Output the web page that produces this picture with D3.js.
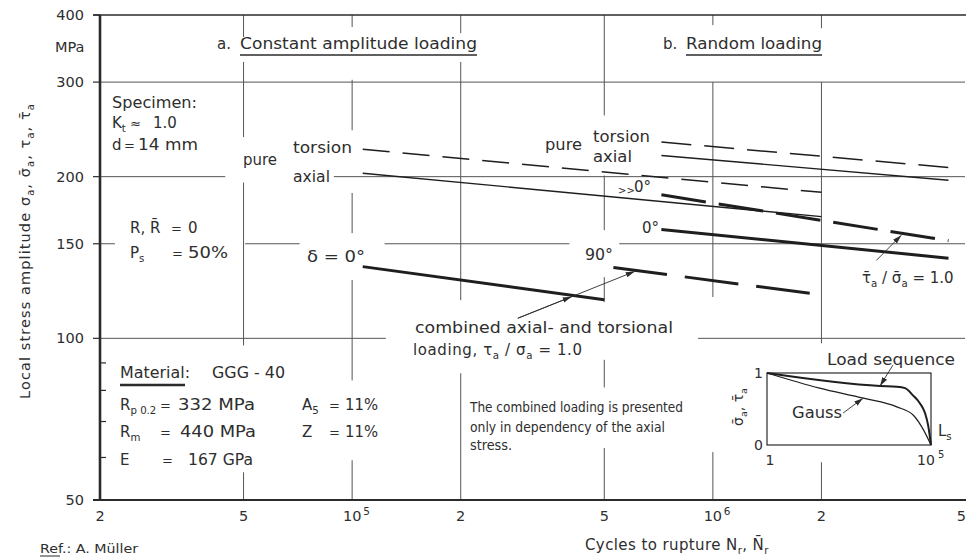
<!DOCTYPE html>
<html>
<head>
<meta charset="utf-8">
<script src="https://cdn.jsdelivr.net/npm/d3@7"></script>
<style>
  body { margin: 0; background: #fff; }
  svg text { font-family: "DejaVu Sans", sans-serif; fill: #2e2e2e; }
  .narrow { font-family: "Liberation Sans Narrow", "DejaVu Sans Condensed", sans-serif; }
</style>
</head>
<body>
<svg id="chart" width="966" height="560"></svg>
<script>
// axis ticks
const cycleTicks = [2e4, 5e4, 1e5, 2e5, 5e5, 1e6, 2e6, 5e6];
const cycleTickLabels = ['2', '5', '10|5', '2', '5', '10|6', '2', '5'];
const stressTicks = [50, 100, 150, 200, 300, 400];
const stressMinor = [60, 70, 80, 90];

// a. constant amplitude loading (cycles, MPa)
const caTorsionN = [1.07e5, 2.0e6], caTorsionS = [225, 187];
const caAxialN = [1.07e5, 2.0e6], caAxialS = [203, 168.5];
const caComb0N = [1.07e5, 5.0e5], caComb0S = [136, 118];
const caComb90N = [5.3e5, 2.0e6], caComb90S = [135.5, 120.5];

// b. random loading
const rdTorsionN = [7.2e5, 4.5e6], rdTorsionS = [232, 208];
const rdAxialN = [7.2e5, 4.5e6], rdAxialS = [219, 197];
const rdComb90N = [7.2e5, 4.5e6], rdComb90S = [185, 152];
const rdComb0N = [7.2e5, 4.5e6], rdComb0S = [159.5, 141];

// inset: spectra (cumulative cycles, relative amplitude)
const loadSeqN = [1, 2800, 9100, 16200, 28200, 45700, 66100, 81300, 100000];
const loadSeqA = [1, 0.82, 0.81, 0.79, 0.69, 0.58, 0.44, 0.28, 0];
const gaussN = [1, 40, 870, 9100, 29500, 58900, 100000];
const gaussA = [1, 0.79, 0.65, 0.53, 0.41, 0.21, 0];

// grid pieces left open around the lettering (data units)
const hGrid = [
  [300, [[2e4, 5e6]]],
  [200, [[2e4, 4.45e4], [8.9e4, 5e6]]],
  [150, [[2e4, 2.2e4], [5.05e4, 7.15e4], [1.23e5, 4.0e5], [5.5e5, 5e6]]],
  [100, [[2e4, 1.24e5], [9.1e5, 5e6]]]
];
const vGrid = [
  [5e4, [[364, 400], [237, 327], [97, 195], [50, 56.3]]],
  [1e5, [[380, 400], [244, 303], [157, 186.5], [83.5, 128.4], [50, 59.3]]],
  [2e5, [[370, 400], [117.8, 327], [50, 86.1]]],
  [5e5, [[260, 400], [159, 201], [116.8, 130], [81, 91.2], [50, 62.5]]],
  [1e6, [[383, 400], [119.4, 300], [50, 61.4]]],
  [2e6, [[378, 400], [97.9, 300], [50, 58.8]]]
];

const ink = '#2b2b2b';
const svg = d3.select('#chart');

const x = d3.scaleLog().domain([2e4, 5e6]).range([100, 965]);
const y = d3.scaleLog().domain([50, 400]).range([500, 15]);

// arrow head
svg.append('defs').append('marker')
  .attr('id', 'head').attr('viewBox', '0 0 10 6')
  .attr('refX', 10).attr('refY', 3)
  .attr('markerWidth', 9).attr('markerHeight', 5.5)
  .attr('markerUnits', 'userSpaceOnUse').attr('orient', 'auto')
  .append('path').attr('d', 'M0,0L10,3L0,6Z').attr('fill', ink);

function txt(xp, yc, parts, o = {}) {
  const t = svg.append('text')
    .attr('x', xp).attr('y', yc + (o.dy ?? 5))
    .attr('font-size', o.size || 15)
    .attr('text-anchor', o.anchor || 'start');
  if (o.cls) t.attr('class', o.cls);
  if (o.ls) t.attr('letter-spacing', o.ls);
  if (o.len) t.attr('textLength', o.len).attr('lengthAdjust', 'spacingAndGlyphs');
  if (o.rot) t.attr('transform', `rotate(${o.rot},${xp},${yc})`);
  if (typeof parts === 'string') parts = [parts];
  let shift = 0;
  parts.forEach(p => {
    const [s, kind] = typeof p === 'string' ? [p, null] : p;
    const target = kind === 'sub' ? 4 : kind === 'sup' ? -7 : 0;
    t.append('tspan').attr('dy', target - shift)
      .attr('font-size', kind ? '0.68em' : null).text(s);
    shift = target;
  });
  return t;
}
function rule(x1, y1, x2, y2, w = 1) {
  svg.append('line').attr('x1', x1).attr('y1', y1).attr('x2', x2).attr('y2', y2)
    .attr('stroke', ink).attr('stroke-width', w);
}
const eq = (xp, yc) => txt(xp, yc, '=', { size: 13 });

// grid
const grid = svg.append('g').attr('stroke', '#555').attr('stroke-width', 1);
hGrid.forEach(([s, segs]) => segs.forEach(([a, b]) =>
  grid.append('line').attr('x1', x(a)).attr('x2', x(b)).attr('y1', y(s)).attr('y2', y(s))));
vGrid.forEach(([n, segs]) => segs.forEach(([a, b]) =>
  grid.append('line').attr('x1', x(n)).attr('x2', x(n)).attr('y1', y(a)).attr('y2', y(b))));

// frame and axes
rule(93, y(400), 966, y(400), 1.3);
rule(93, y(50), 966, y(50), 2.2);
rule(x(2e4), y(400), x(2e4), y(50), 2.6);
stressTicks.forEach(s => {
  rule(93, y(s), 100, y(s), 1.2);
  txt(84, y(s), String(s), { anchor: 'end', size: 14.5 });
});
stressMinor.forEach(s => rule(100, y(s), 106, y(s), 1.2));
txt(55, 47, 'MPa', { size: 14.5 });

cycleTicks.forEach((n, i) => {
  const [base, sup] = cycleTickLabels[i].split('|');
  const last = i === cycleTicks.length - 1;
  txt(x(n) + (last ? 1 : 0), 516, base, { anchor: last ? 'end' : 'middle', size: 14.5 });
  if (sup) txt(x(n) + 11, 510, sup, { size: 10.5 });
});

// S-N lines
const line = d3.line().x(d => x(d[0])).y(d => y(d[1]));
const series = [
  { n: caTorsionN, s: caTorsionS, w: 1.5, dash: '27,13' },
  { n: caAxialN, s: caAxialS, w: 1.4 },
  { n: caComb0N, s: caComb0S, w: 3 },
  { n: caComb90N, s: caComb90S, w: 3, dash: '54,18' },
  { n: rdTorsionN, s: rdTorsionS, w: 1.5, dash: '30,13' },
  { n: rdAxialN, s: rdAxialS, w: 1.4 },
  { n: rdComb90N, s: rdComb90S, w: 3, dash: '45,13' },
  { n: rdComb0N, s: rdComb0S, w: 3 }
];
svg.append('g').selectAll('path').data(series).join('path')
  .attr('d', d => line(d.n.map((v, i) => [v, d.s[i]])))
  .attr('fill', 'none').attr('stroke', '#1e1e1e')
  .attr('stroke-width', d => d.w)
  .attr('stroke-dasharray', d => d.dash || null);

// pointer arrows (data coords)
function arrow(p0, p1, mid) {
  const a = [x(p0[0]), y(p0[1])], b = [x(p1[0]), y(p1[1])];
  const g = svg.append('g').attr('stroke', ink).attr('stroke-width', 0.9);
  g.append('line').attr('x1', a[0]).attr('y1', a[1]).attr('x2', b[0]).attr('y2', b[1])
    .attr('marker-end', 'url(#head)');
  if (mid) {
    const m = [a[0] + (b[0] - a[0]) * mid, a[1] + (b[1] - a[1]) * mid];
    g.append('line').attr('x1', a[0]).attr('y1', a[1]).attr('x2', m[0]).attr('y2', m[1])
      .attr('marker-end', 'url(#head)');
  }
}
arrow([2.88e5, 109], [6.07e5, 133.2], 0.46);
arrow([2.84e6, 139.7], [3.33e6, 155.6]);

// lettering
txt(217, 44, 'a.');
txt(240, 44, 'Constant amplitude loading', { len: 237 });
rule(240, 55, 477, 55, 1.4);
txt(663, 44, 'b.');
txt(686, 44, 'Random loading', { len: 136 });
rule(686, 55, 822, 55, 1.4);

txt(112, 103, 'Specimen:', { len: 85 });
txt(112, 123, ['K', ['t', 'sub']]);
txt(130, 123, '≈', { size: 13 });
txt(153, 123, '1.0');
txt(112, 145, 'd');
eq(124, 145);
txt(138, 145, '14 mm', { len: 60 });
txt(130, 228, 'R, R\u0304');
eq(171, 228);
txt(188, 228, '0');
txt(130, 253, ['P', ['s', 'sub']]);
eq(172, 253);
txt(188, 253, '50%', { len: 40 });

txt(243, 160, 'pure', { len: 34 });
txt(293, 148, 'torsion', { len: 59 });
txt(293, 177, 'axial', { len: 37 });
txt(307, 257, 'δ  =  0°', { len: 58 });
txt(585, 255, '90°', { len: 28 });
txt(545, 145, 'pure', { len: 37 });
txt(593, 137, 'torsion', { len: 57 });
txt(593, 157, 'axial', { len: 39 });
txt(618, 189, '>>', { size: 10 });
txt(634, 187, '0°');
txt(642, 228, '0°');
txt(862, 278, ['τ\u0304', ['a', 'sub'], ' / σ\u0304', ['a', 'sub'], ' = 1.0']);

txt(415, 328, 'combined axial- and torsional', { len: 258 });
txt(413, 350, ['loading, τ', ['a', 'sub'], ' / σ', ['a', 'sub'], ' = 1.0'], { ls: 0.6 });

txt(120, 373, 'Material:', { len: 70 });
rule(120, 385, 185, 385, 2.4);
txt(212, 373, 'GGG - 40', { len: 73 });
txt(120, 405, ['R', ['p 0.2', 'sub']]);
eq(160, 405);
txt(178, 405, '332 MPa', { len: 77 });
txt(120, 432, ['R', ['m', 'sub']]);
eq(160, 432);
txt(180, 432, '440 MPa', { len: 76 });
txt(120, 460, 'E');
eq(162, 460);
txt(188, 460, '167 GPa', { len: 65 });
txt(302, 405, ['A', ['5', 'sub']]);
eq(329, 405);
txt(345, 405, '11%', { len: 33 });
txt(302, 432, 'Z');
eq(329, 432);
txt(345, 432, '11%', { len: 33 });

txt(470, 407, 'The combined loading is presented', { cls: 'narrow', size: 14, len: 213 });
txt(470, 427, 'only in dependency of the axial', { cls: 'narrow', size: 14, len: 195 });
txt(470, 445, 'stress.', { cls: 'narrow', size: 14, len: 42 });

txt(25, 251, ['Local stress amplitude σ', ['a', 'sub'], ', σ\u0304', ['a', 'sub'], ', τ', ['a', 'sub'], ', τ\u0304', ['a', 'sub']],
  { anchor: 'middle', rot: -90, size: 14.5, ls: 1.1 });
txt(585, 545, ['Cycles to rupture N', ['r', 'sub'], ', N\u0304', ['r', 'sub']], { size: 15, ls: 0.4 });
txt(40, 548, 'Ref.: A. Müller', { size: 12.5, len: 98 });
rule(40, 556, 60, 556, 1);

// inset: load spectrum sketch
const ix = d3.scaleLog().domain([1, 1e5]).range([767, 931]);
const iy = d3.scaleLinear().domain([0, 1]).range([445, 373]);
svg.append('rect')
  .attr('x', ix(1)).attr('y', iy(1)).attr('width', ix(1e5) - ix(1)).attr('height', iy(0) - iy(1))
  .attr('fill', 'none').attr('stroke', ink).attr('stroke-width', 1.2);
const iline = d3.line().x(d => ix(d[0])).y(d => iy(d[1])).curve(d3.curveMonotoneX);
svg.append('path').attr('d', iline(loadSeqN.map((v, i) => [v, loadSeqA[i]])))
  .attr('fill', 'none').attr('stroke', '#1e1e1e').attr('stroke-width', 2);
svg.append('path').attr('d', iline(gaussN.map((v, i) => [v, gaussA[i]])))
  .attr('fill', 'none').attr('stroke', '#1e1e1e').attr('stroke-width', 1.2);
function iarrow(p0, p1) {
  svg.append('line').attr('x1', ix(p0[0])).attr('y1', iy(p0[1])).attr('x2', ix(p1[0])).attr('y2', iy(p1[1]))
    .attr('stroke', ink).attr('stroke-width', 0.9).attr('marker-end', 'url(#head)');
}
iarrow([6900, 1.11], [2790, 0.82]);
iarrow([209, 0.444], [850, 0.65]);
txt(827, 360, 'Load sequence', { len: 128 });
txt(792, 413, 'Gauss', { len: 50 });
txt(938, 431, ['L', ['s', 'sub']]);
txt(763, iy(1), '1', { anchor: 'end', size: 14 });
txt(763, iy(0), '0', { anchor: 'end', size: 14 });
txt(ix(1) + 3, 460, '1', { anchor: 'middle', size: 14 });
txt(ix(1e5) - 5, 460, '10', { anchor: 'middle', size: 14 });
txt(ix(1e5) + 7, 453, '5', { size: 10 });
txt(738, 407, ['σ\u0304', ['a', 'sub'], ', τ\u0304', ['a', 'sub']], { anchor: 'middle', rot: -90, size: 14 });
</script>
</body>
</html>
